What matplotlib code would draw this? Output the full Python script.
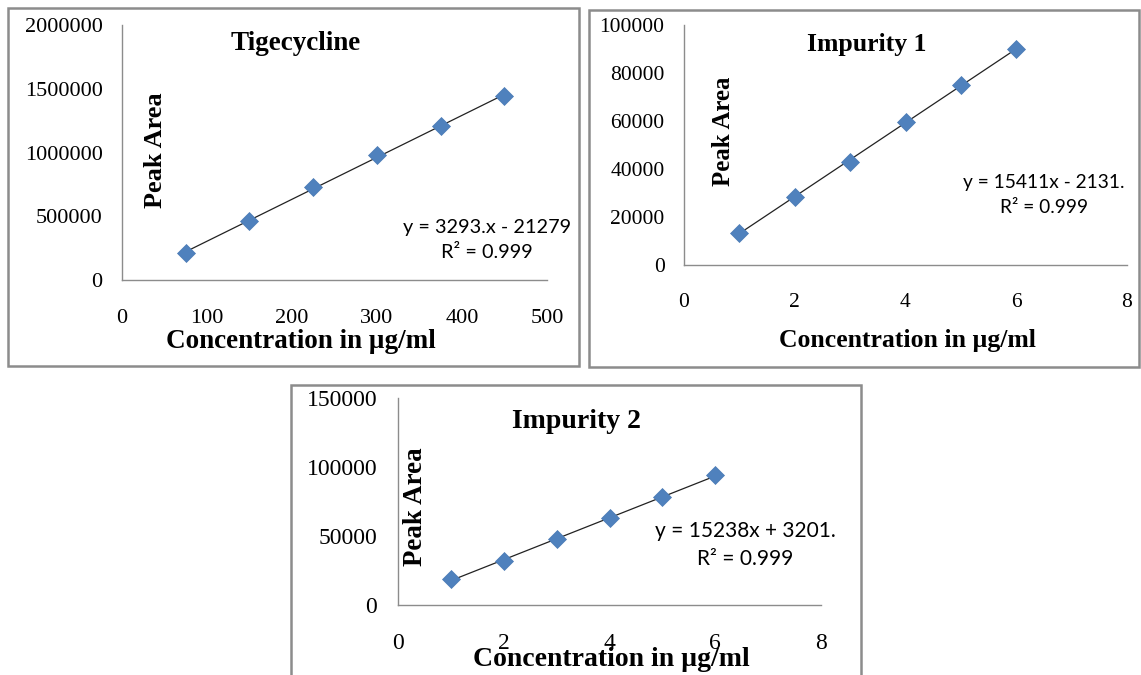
from matplotlib import pyplot as plt
from matplotlib.patches import Rectangle
import numpy as np

W, H = 1141, 675

# Tigecycline
conc_tig = [75, 150, 225, 300, 375, 450]
area_tig = [215000, 460000, 728000, 980000, 1205000, 1445000]
eq_tig = "y = 3293.x - 21279\nR\u00b2 = 0.999"

# Impurity 1
conc_imp1 = [1, 2, 3, 4, 5, 6]
area_imp1 = [13500, 28500, 43000, 59500, 75000, 90000]
eq_imp1 = "y = 15411x - 2131.\nR\u00b2 = 0.999"

# Impurity 2
conc_imp2 = [1, 2, 3, 4, 5, 6]
area_imp2 = [18500, 32000, 48000, 63000, 78000, 94000]
eq_imp2 = "y = 15238x + 3201.\nR\u00b2 = 0.999"

serif = 'Liberation Serif'
sans = 'Lato'
blue = '#4f81bd'


def px_box(x0, y0, x1, y1):
    return [x0 / W, 1 - y1 / H, (x1 - x0) / W, (y1 - y0) / H]


def panel(frame, box, x, y, xlim, ylim, xstep, ystep, title, eq,
          title_xy, ylab_xy, xlab_xy, eq_xy, tick_fs, lab_fs, eq_fs, xpad, ypad):
    fx0, fy0, fx1, fy1 = frame
    fig.patches.append(Rectangle((fx0 / W, 1 - fy1 / H), (fx1 - fx0) / W, (fy1 - fy0) / H,
                                 transform=fig.transFigure, fill=False,
                                 edgecolor='#8c8c8c', linewidth=1.8, clip_on=False))
    ax = fig.add_axes(px_box(*box))
    ax.set_facecolor('none')
    x0, y0, x1, y1 = box

    def axfrac(px, py):
        return ((px - x0) / (x1 - x0), (y1 - py) / (y1 - y0))

    # linear trendline
    k, b = np.polyfit(x, y, 1)
    xs = np.array([min(x), max(x)])
    ax.plot(xs, k * xs + b, color='#222222', linewidth=0.9, zorder=2)
    ax.plot(x, y, linestyle='none', marker='D', markersize=9.5,
            markerfacecolor=blue, markeredgecolor='#4a7ab5', markeredgewidth=0.5, zorder=3)

    ax.set_xlim(*xlim)
    ax.set_ylim(*ylim)
    ax.set_xticks(np.arange(xlim[0], xlim[1] + xstep / 2, xstep))
    ax.set_yticks(np.arange(ylim[0], ylim[1] + ystep / 2, ystep))
    ax.set_yticklabels([str(int(v)) for v in ax.get_yticks()])
    ax.set_xticklabels([str(int(v)) for v in ax.get_xticks()])
    ax.tick_params(axis='x', length=0, pad=xpad, labelsize=tick_fs)
    ax.tick_params(axis='y', length=0, pad=ypad, labelsize=tick_fs)
    for lab in ax.get_xticklabels() + ax.get_yticklabels():
        lab.set_fontfamily(serif)
    for s in ['top', 'right']:
        ax.spines[s].set_visible(False)
    for s in ['left', 'bottom']:
        ax.spines[s].set_color('#8c8c8c')
        ax.spines[s].set_linewidth(1.0)

    ax.text(*axfrac(*title_xy), title, transform=ax.transAxes, ha='center', va='center',
            fontfamily=serif, fontweight='bold', fontsize=lab_fs)
    ax.text(*axfrac(*ylab_xy), 'Peak Area', transform=ax.transAxes, ha='center', va='center',
            rotation=90, fontfamily=serif, fontweight='bold', fontsize=lab_fs * 0.97)
    ax.text(*axfrac(*xlab_xy), 'Concentration in \u00b5g/ml', transform=ax.transAxes,
            ha='center', va='center', fontfamily=serif, fontweight='bold', fontsize=lab_fs,
            clip_on=False)
    ax.text(*axfrac(*eq_xy), eq, transform=ax.transAxes, ha='center', va='center',
            fontfamily=sans, fontsize=eq_fs, linespacing=1.55)
    return ax


fig = plt.figure(figsize=(W / 100, H / 100), dpi=100)

panel((8, 8, 579, 366), (122, 25, 547, 280), conc_tig, area_tig,
      (0, 500), (0, 2000000), 100, 500000, 'Tigecycline', eq_tig,
      (296, 43), (155, 150), (301, 342), (487, 240), 16, 19.5, 14.3, 21, 14)

panel((589, 10, 1139, 367), (684, 25, 1127, 265), conc_imp1, area_imp1,
      (0, 8), (0, 100000), 2, 20000, 'Impurity 1', eq_imp1,
      (867, 44), (723, 131), (907, 340), (1044, 195), 15.5, 18.5, 13.8, 20, 14)

panel((291, 385, 861, 690), (398, 398, 821, 605), conc_imp2, area_imp2,
      (0, 8), (0, 150000), 2, 50000, 'Impurity 2', eq_imp2,
      (576, 422), (415, 507), (611, 660), (745, 545), 17, 20, 15, 20, 15)

fig.savefig('out.png', dpi=100)
